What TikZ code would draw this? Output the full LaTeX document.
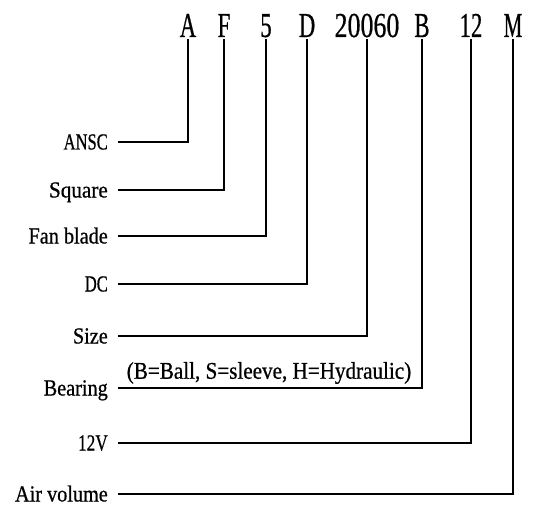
\documentclass[tikz,border=0pt]{standalone}
\usepackage{fontspec}
\setmainfont{Liberation Serif}[FakeBold=0.7]
\usepackage{graphicx}
\usetikzlibrary{calc}
\newcommand{\leadcolor}{black}
\newcommand{\leadthick}{2.6pt}
\newcommand{\gap}{10pt}
\newcommand{\squeezetext}[2]{\scalebox{#1}[1]{#2}}

\begin{document}
\begin{tikzpicture}[x=1pt,y=-1pt,
  code/.style={anchor=base,inner sep=2pt,text depth=0pt,font=\fontsize{35}{35}\selectfont},
  part/.style={anchor=east,inner sep=0pt,text height=15pt,text depth=0pt,font=\fontsize{23}{23}\selectfont},
  lead/.style={draw=\leadcolor,line width=\leadthick,line join=miter}]
\useasboundingbox (0,0) rectangle (549,508);
%model code
\node[code] (cA) at (188,37) {\squeezetext{0.65}{A}};
\node[code] (cF) at (224,37) {\squeezetext{0.65}{F}};
\node[code] (c5) at (266,37) {\squeezetext{0.65}{5}};
\node[code] (cD) at (307,37) {\squeezetext{0.65}{D}};
\node[code] (cSize) at (367,37) {\squeezetext{0.74}{20060}};
\node[code] (cB) at (422,37) {\squeezetext{0.65}{B}};
\node[code] (c12) at (471,37) {\squeezetext{0.65}{12}};
\node[code] (cM) at (513,37) {\squeezetext{0.6}{M}};
%labels
\node[part] (lAnsc) at (108,142) {\squeezetext{0.72}{ANSC}};
\node[part] (lSquare) at (108,190) {\squeezetext{0.92}{Square}};
\node[part] (lFan) at (108,236) {\squeezetext{0.88}{Fan blade}};
\node[part] (lDC) at (108,284) {\squeezetext{0.72}{DC}};
\node[part] (lSize) at (108,336) {\squeezetext{0.88}{Size}};
\node[part] (lBearing) at (108,388) {\squeezetext{0.88}{Bearing}};
\node[part] (lVolt) at (108,443) {\squeezetext{0.75}{12V}};
\node[part] (lAir) at (108,494) {\squeezetext{0.88}{Air volume}};
\node[inner sep=0pt,font=\fontsize{24}{24}\selectfont] (nBearing) at (269,373) {\squeezetext{0.88}{(B=Ball, S=sleeve, H=Hydraulic)}};
%leads
\draw[lead] ([xshift=\gap]lAnsc.east) -| (cA.south);
\draw[lead] ([xshift=\gap]lSquare.east) -| (cF.south);
\draw[lead] ([xshift=\gap]lFan.east) -| (c5.south);
\draw[lead] ([xshift=\gap]lDC.east) -| (cD.south);
\draw[lead] ([xshift=\gap]lSize.east) -| (cSize.south);
\draw[lead] ([xshift=\gap]lBearing.east) -| (cB.south);
\draw[lead] ([xshift=\gap]lVolt.east) -| (c12.south);
\draw[lead] ([xshift=\gap]lAir.east) -| (cM.south);
\end{tikzpicture}
\end{document}
